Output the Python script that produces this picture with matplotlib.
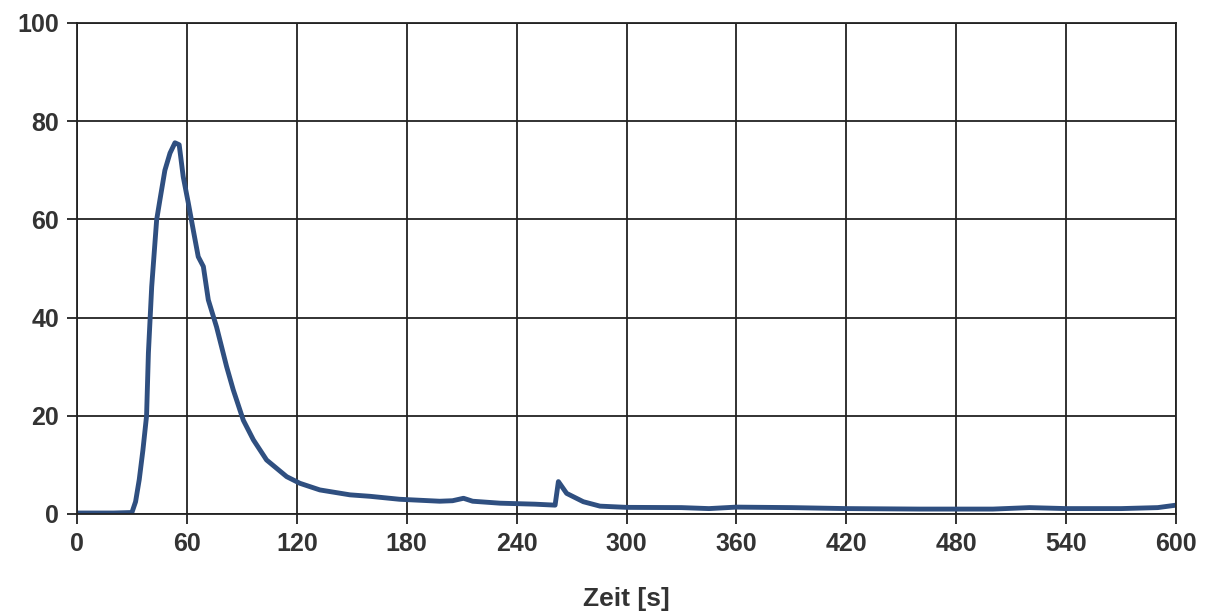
import matplotlib
matplotlib.use("Agg")
import matplotlib.pyplot as plt

zeit = [0, 10, 20, 30, 32, 34, 36, 38, 39, 40.8, 43.5, 45.3, 48, 50.8, 53.5,
        55.8, 58, 60.8, 63.5, 66.2, 69, 71.7, 76.2, 81.7, 85.3, 90.8, 96.3,
        103.5, 114.5, 121.7, 132.6, 149, 160, 176, 198, 205, 211, 216, 231,
        250, 261, 262.8, 267.3, 276.4, 285.5, 300, 330, 345, 360, 390, 420,
        460, 500, 520, 540, 570, 590, 600]
wert = [0.2, 0.2, 0.2, 0.3, 2.5, 7, 13, 20, 32.8, 46.3, 59.9, 64, 70, 73.5,
        75.6, 75.2, 68.7, 63.3, 57.8, 52.4, 50.4, 43.6, 38.1, 30, 25.3, 19.1,
        15.1, 11, 7.6, 6.25, 4.9, 3.9, 3.6, 3.0, 2.6, 2.7, 3.2, 2.6, 2.2, 2.0,
        1.8, 6.6, 4.2, 2.5, 1.6, 1.35, 1.3, 1.1, 1.4, 1.3, 1.1, 1.0, 1.0, 1.3,
        1.1, 1.1, 1.3, 1.8]

x_ticks = list(range(0, 601, 60))
y_ticks = list(range(0, 101, 20))

plt.rcParams["font.family"] = ["Liberation Sans", "DejaVu Sans"]

fig = plt.figure(figsize=(12.1, 6.16), dpi=100)
ax = fig.add_axes([0.0636, 0.1656, 0.9084, 0.7971])

ax.plot(zeit, wert, color="#2f4f80", linewidth=3.5, solid_joinstyle="round",
        solid_capstyle="round")

ax.set_xlim(0, 600)
ax.set_ylim(0, 100)
ax.set_xticks(x_ticks)
ax.set_yticks(y_ticks)
ax.grid(True, color="#222222", linewidth=1.3)
ax.set_axisbelow(True)
for s in ax.spines.values():
    s.set_color("#222222")
    s.set_linewidth(1.3)
ax.tick_params(axis="both", direction="out", length=7, width=1.3,
               color="#222222", labelsize=18, labelcolor="#333333", pad=6)
for lbl in ax.get_xticklabels() + ax.get_yticklabels():
    lbl.set_fontweight("bold")

ax.set_xlabel("Zeit [s]", fontsize=19, fontweight="bold", color="#333333",
              labelpad=22)

fig.savefig("out.png", dpi=100)
